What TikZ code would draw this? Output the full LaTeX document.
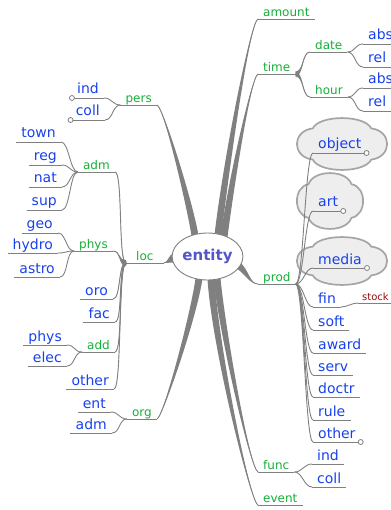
\documentclass[tikz,border=0pt]{standalone}
\usepackage{fontspec}
\setmainfont{DejaVu Sans}
\usetikzlibrary{calc,shapes.geometric,backgrounds}
\definecolor{edgec}{RGB}{128,128,128}
\definecolor{greenc}{RGB}{20,175,55}
\definecolor{bluec}{RGB}{25,65,235}
\definecolor{rootc}{RGB}{85,85,200}
\definecolor{stockc}{RGB}{150,10,10}
\definecolor{cloudfill}{RGB}{238,238,238}
\definecolor{cloudline}{RGB}{165,165,165}
\tikzset{
  edge/.style={draw=edgec, line width=0.9pt},
  gl/.style={text=greenc, font=\fontsize{12}{14}\selectfont, inner xsep=5pt, inner ysep=0pt, text depth=2pt},
  bl/.style={text=bluec, font=\fontsize{14}{16}\selectfont, inner xsep=5pt, inner ysep=0.5pt, text depth=3.3pt},
  sl/.style={text=stockc, font=\fontsize{10}{12}\selectfont, inner xsep=4pt, inner ysep=0pt, text depth=2pt},
  fold/.style={circle, draw=edgec, fill=white, line width=0.8pt, inner sep=0pt, minimum size=5pt},
  cloudbox/.style={draw=cloudline, line width=1.7pt, fill=cloudfill},
  rootnode/.style={ellipse, draw=edgec, fill=white, line width=0.9pt, minimum width=69pt, minimum height=47pt, inner sep=0pt, text=rootc, font=\bfseries\fontsize{15}{18}\selectfont},
}
% four-lobed cloud: name, cx, cy, a, b
\newcommand\mmcloud[5]{%
  \coordinate (#1) at (#2,#3);
  \path[cloudbox] ({#2-0.65*#4},{#3-0.6*#5})
    .. controls ({#2-0.5*#4},{#3-1.13*#5}) and ({#2+0.5*#4},{#3-1.13*#5}) .. ({#2+0.65*#4},{#3-0.6*#5})
    .. controls ({#2+1.12*#4},{#3-0.5*#5}) and ({#2+1.12*#4},{#3+0.5*#5}) .. ({#2+0.65*#4},{#3+0.6*#5})
    .. controls ({#2+0.5*#4},{#3+1.13*#5}) and ({#2-0.5*#4},{#3+1.13*#5}) .. ({#2-0.65*#4},{#3+0.6*#5})
    .. controls ({#2-1.12*#4},{#3+0.5*#5}) and ({#2-1.12*#4},{#3-0.5*#5}) .. cycle;}
% general tapered edge: S, C1, C2, E, offset
\newcommand\mmtaper[5]{%
  \fill[edgec] ($(#1)+(#5)$) .. controls ($(#2)+(#5)$) and (#3) .. (#4) .. controls (#3) and ($(#2)-(#5)$) .. ($(#1)-(#5)$) -- cycle;
  \draw[edge] (#1) .. controls (#2) and (#3) .. (#4);}
% horizontal tapered edge: P, C, k (signed), w
\newcommand\mmhtaper[4]{%
  \fill[edgec] ($(#1)+(0,#4)$) .. controls ($(#1)+(#3,#4)$) and ($(#2)-(#3,0)$) .. (#2) .. controls ($(#2)-(#3,0)$) and ($(#1)+(#3,-#4)$) .. ($(#1)-(0,#4)$) -- cycle;
  \draw[edge] (#1) .. controls +(#3,0) and ($(#2)-(#3,0)$) .. (#2);}
\newcommand\mmforkR[2]{\draw[edge] (#1.south east) .. controls +(8,0) and +(-8,0) .. (#2.south west);}
\newcommand\mmforkL[2]{\draw[edge] (#1.south west) .. controls +(-8,0) and +(8,0) .. (#2.south east);}
\begin{document}
\begin{tikzpicture}[x=1pt,y=-1pt]
\useasboundingbox (0,0) rectangle (390,510);
% root
\node[rootnode] (root) at (207.5,256.5) {entity};
% right side
\node[gl,anchor=south west] (amount) at (258,19) {amount};
\node[gl,anchor=south west] (time) at (258,74) {time};
\node[gl,anchor=south west] (date) at (310,52) {date};
\node[gl,anchor=south west] (hour) at (310,97) {hour};
\node[bl,anchor=south west] (dabs) at (363,44) {abs};
\node[bl,anchor=south west] (drel) at (363,67) {rel};
\node[bl,anchor=south west] (habs) at (363,88) {abs};
\node[bl,anchor=south west] (hrel) at (363,111) {rel};
\node[gl,anchor=south west] (prod) at (258,284) {prod};
\node[bl,anchor=south west] (object) at (313,153) {object};
\node[bl,anchor=south west] (art) at (313,211) {art};
\node[bl,anchor=south west] (media) at (313,268) {media};
\node[bl,anchor=south west] (fin) at (313,307) {fin};
\node[sl,anchor=south west] (stock) at (358,303) {stock};
\node[bl,anchor=south west] (soft) at (313,330) {soft};
\node[bl,anchor=south west] (award) at (313,353) {award};
\node[bl,anchor=south west] (serv) at (313,375) {serv};
\node[bl,anchor=south west] (doctr) at (313,397) {doctr};
\node[bl,anchor=south west] (rule) at (313,420) {rule};
\node[bl,anchor=south west] (pother) at (313,442) {other};
\node[gl,anchor=south west] (func) at (258,472) {func};
\node[bl,anchor=south west] (find) at (312,464) {ind};
\node[bl,anchor=south west] (fcoll) at (312,487) {coll};
\node[gl,anchor=south west] (event) at (258,505) {event};
% left side
\node[gl,anchor=south east] (pers) at (157,105) {pers};
\node[bl,anchor=south east] (pind) at (104,98) {ind};
\node[bl,anchor=south east] (pcoll) at (105,120) {coll};
\node[gl,anchor=south east] (adm) at (115,172) {adm};
\node[bl,anchor=south east] (town) at (61,142) {town};
\node[bl,anchor=south east] (reg) at (62,165) {reg};
\node[bl,anchor=south east] (nat) at (62,187) {nat};
\node[bl,anchor=south east] (sup) at (62,210) {sup};
\node[gl,anchor=south west,inner xsep=10pt] (loc) at (126,263) {loc};
\node[gl,anchor=south east] (physg) at (113,251) {phys};
\node[bl,anchor=south east] (geo) at (58,233) {geo};
\node[bl,anchor=south east] (hydro) at (58,253) {hydro};
\node[bl,anchor=south east] (astro) at (60,277) {astro};
\node[bl,anchor=south east] (oro) at (113,299) {oro};
\node[bl,anchor=south east] (fac) at (115,322) {fac};
\node[gl,anchor=south east] (add) at (115,352) {add};
\node[bl,anchor=south east] (aphys) at (67,345) {phys};
\node[bl,anchor=south east] (elec) at (67,366) {elec};
\node[bl,anchor=south east] (lother) at (114,389) {other};
\node[gl,anchor=south east] (org) at (157,419) {org};
\node[bl,anchor=south east] (oent) at (111,412) {ent};
\node[bl,anchor=south east] (oadm) at (112,433) {adm};
% fold markers
\node[fold] (fo1) at (object.south east) {};
\node[fold] (fo2) at (art.south east) {};
\node[fold] (fo3) at (media.south east) {};
\node[fold] (fo4) at (pother.south east) {};
\node[fold] (fo5) at (pind.south west) {};
\node[fold] (fo6) at (pcoll.south west) {};
\begin{pgfonlayer}{background}
% clouds
\mmcloud{objcloud}{342}{144}{45}{26}
\mmcloud{artcloud}{330}{201}{33}{28}
\mmcloud{medcloud}{342}{261}{45}{24}
% underlines
\foreach \n in {amount,time,date,hour,dabs,drel,habs,hrel,prod,object,art,media,fin,stock,soft,award,serv,doctr,rule,pother,func,find,fcoll,event,pers,pind,pcoll,adm,town,reg,nat,sup,loc,physg,geo,hydro,astro,oro,fac,add,aphys,elec,lother,org,oent,oadm}
  \draw[edge] (\n.south west) -- (\n.south east);
% root edges
\coordinate (aS) at ($(root.center)+(10.5,-21.5)$);
\coordinate (tS) at ($(root.center)+(16.5,-19.5)$);
\coordinate (pS) at ($(root.center)+(-12.5,-21)$);
\coordinate (oS) at ($(root.center)+(-8.5,22)$);
\coordinate (fS) at ($(root.center)+(9.5,22)$);
\coordinate (eS) at ($(root.center)+(3.5,22.5)$);
\coordinate (prS) at ($(root.center)+(31,9)$);
\coordinate (lS) at ($(root.center)+(-34,1.5)$);
\mmtaper{aS}{226,165}{250,22}{amount.south west}{3.5,0}
\mmtaper{tS}{230,190}{251,77}{time.south west}{3.5,0}
\mmtaper{pS}{190,205}{164,108}{pers.south east}{3.5,0}
\mmtaper{oS}{194,315}{163,417}{org.south east}{3.5,0}
\mmtaper{fS}{222,330}{250,469}{func.south west}{3.5,0}
\mmtaper{eS}{215,345}{250,502}{event.south west}{3.5,0}
\mmtaper{prS}{247,272}{250,284}{prod.south west}{1.5,-3}
\mmtaper{lS}{169,258}{168,263}{loc.south east}{0,4.5}
% time
\mmhtaper{time.south east}{date.south west}{8}{2.5}
\mmhtaper{time.south east}{hour.south west}{8}{2.5}
\mmforkR{date}{dabs}
\mmforkR{date}{drel}
\mmforkR{hour}{habs}
\mmforkR{hour}{hrel}
% prod
\foreach \c in {object,art,media,fin,soft,award,serv,doctr,rule,pother}
  \mmforkR{prod}{\c};
\draw[edge] (fin.south east) .. controls +(6,0) and +(-6,0) .. (stock.south west);
% func
\mmforkR{func}{find}
\mmforkR{func}{fcoll}
% pers
\mmforkL{pers}{pind}
\mmforkL{pers}{pcoll}
% loc
\mmhtaper{loc.south west}{physg.south east}{-8}{3}
\mmhtaper{loc.south west}{adm.south east}{-8}{1.3}
\mmhtaper{loc.south west}{oro.south east}{-8}{1.8}
\mmhtaper{loc.south west}{fac.south east}{-8}{1.8}
\mmhtaper{loc.south west}{add.south east}{-8}{1.8}
\mmhtaper{loc.south west}{lother.south east}{-8}{1.8}
\foreach \c in {town,reg,nat,sup} \mmforkL{adm}{\c};
\foreach \c in {geo,hydro,astro} \mmforkL{physg}{\c};
\mmforkL{add}{aphys}
\mmforkL{add}{elec}
% org
\mmforkL{org}{oent}
\mmforkL{org}{oadm}
\end{pgfonlayer}
\end{tikzpicture}
\end{document}
